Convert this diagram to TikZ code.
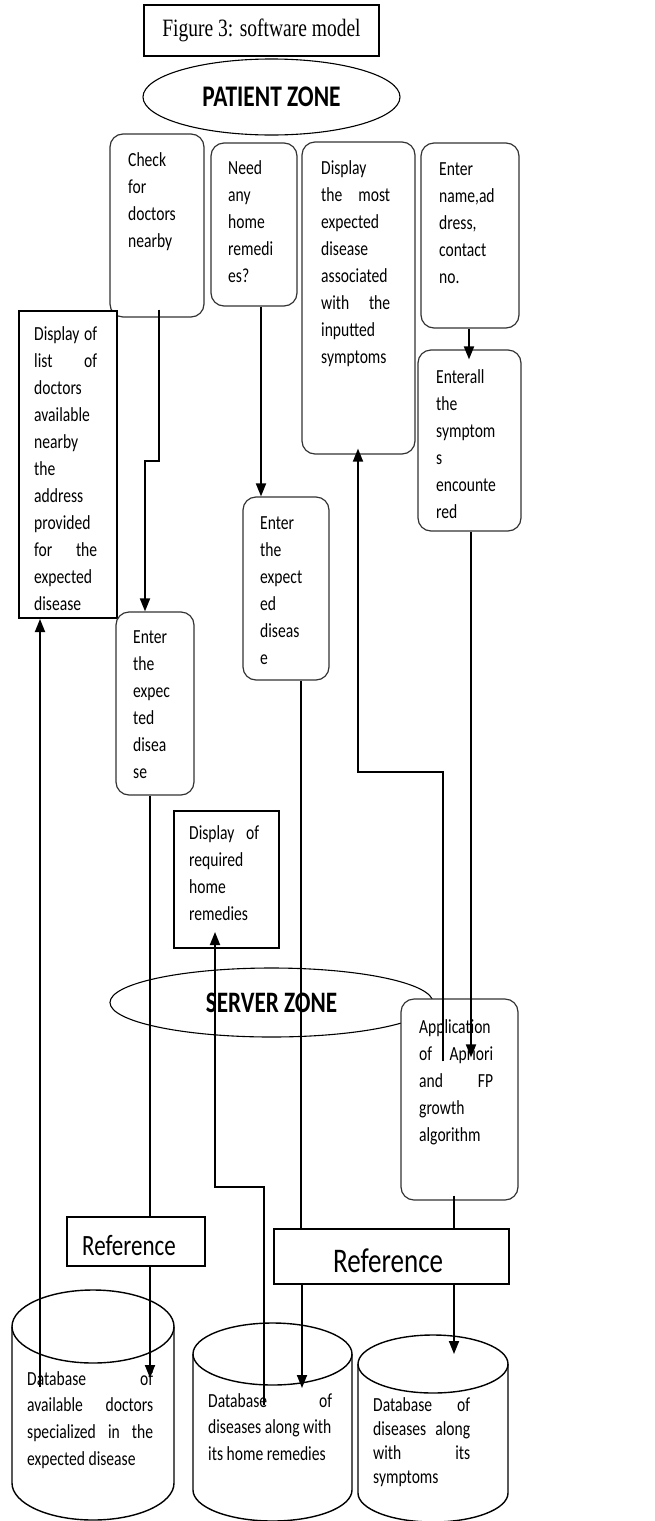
\documentclass[tikz,border=0pt]{standalone}
\usepackage{fontspec}
\setmainfont{Carlito}
\newfontfamily\timesf{Liberation Serif}
\usepackage{graphicx}
\usetikzlibrary{arrows.meta,fit,shapes.geometric,calc}
\newcommand{\vs}[1]{\scalebox{1}[1.28]{#1}}
\newcommand{\txt}[3][21.1]{\vs{\parbox[t]{#2pt}{\fontsize{15.6}{#1}\selectfont\raggedright\hyphenpenalty=10000 #3}}}
\newcommand{\jl}[1]{\makebox[\linewidth][s]{#1}}
\tikzset{
 rbox/.style={draw=black!80, line width=1.2pt, rounded corners=13pt, fill=white, inner sep=0pt},
 sbox/.style={draw=black, line width=2pt, fill=white, inner sep=0pt},
 conn/.style={line width=1.8pt},
 arr/.style={conn, -{Triangle[length=13pt,width=10pt]}},
 lbl/.style={inner sep=0pt, anchor=base west},
 zone/.style={draw, ellipse, line width=1.1pt, inner sep=0pt},
 db/.style={line width=1.4pt}
}
\begin{document}
\begin{tikzpicture}[x=1pt,y=1pt]
\useasboundingbox (0,0) rectangle (654,-1521);
% title
\node[sbox, minimum width=235pt, minimum height=51pt] (title) at (261.5,-30.5) {\vs{\timesf\fontsize{19.5}{22}\selectfont Figure 3: software model}};
% patient zone
\node[zone, minimum width=257pt, minimum height=76pt] (pz) at (271.5,-97) {\vs{\bfseries\fontsize{23.4}{28}\selectfont PATIENT ZONE}};
% top boxes
\node[rbox, fit={(110,-134) (204,-317)}] (check) {};
\node[lbl] (checkT) at (128,-166.5) {\txt{70}{Check\\for\\doctors\\nearby}};
\node[rbox, fit={(211,-143) (297,-306)}] (need) {};
\node[lbl] (needT) at (228,-174) {\txt{65}{Need\\any\\home\\remedi\\es?}};
\node[rbox, fit={(302,-142) (415,-454)}] (disp) {};
\node[lbl] (dispT) at (321,-174) {\txt{69}{Display\\\jl{the most}\\expected\\disease\\associated\\\jl{with the}\\inputted\\symptoms}};
\node[rbox, fit={(421,-143) (519,-328)}] (name) {};
\node[lbl] (nameT) at (439,-175) {\txt{75}{Enter\\name,ad\\dress,\\contact\\no.}};
\node[sbox, fit={(19,-311) (117,-618)}] (list) {};
\node[lbl] (listT) at (34,-340) {\txt{63}{\jl{Display of}\\\jl{list of}\\doctors\\available\\nearby\\the\\address\\provided\\\jl{for the}\\expected\\disease}};
\node[rbox, fit={(418,-350) (521,-531)}] (enterall) {};
\node[lbl] (enterallT) at (436,-383) {\txt{80}{Enterall\\the\\symptom\\s\\encounte\\red}};
\node[rbox, fit={(243,-497) (329,-680)}] (enterM) {};
\node[lbl] (enterMT) at (260,-529) {\txt{65}{Enter\\the\\expect\\ed\\diseas\\e}};
\node[rbox, fit={(116,-612) (194,-795)}] (enterL) {};
\node[lbl] (enterLT) at (133,-643) {\txt{60}{Enter\\the\\expec\\ted\\disea\\se}};
\node[sbox, fit={(174,-811) (279,-948)}] (home) {};
\node[lbl] (homeT) at (189,-839) {\txt{70}{\jl{Display of}\\required\\home\\remedies}};
% server zone
\node[zone, minimum width=323pt, minimum height=69pt] (sz) at (271.5,-1002.5) {\vs{\bfseries\fontsize{23.2}{28}\selectfont SERVER ZONE}};
\node[rbox, fit={(401,-999) (518,-1200)}] (app) {};
\node[lbl] (appT) at (419,-1033) {\txt{74}{Application\\\jl{of Apriori}\\\jl{and FP}\\growth\\algorithm}};
% references
\node[sbox, fit={(67,-1217) (205,-1266)}] (ref1) {};
\node[lbl] (ref1T) at (82,-1255) {\vs{\fontsize{23}{28}\selectfont Reference}};
\node[sbox, fit={(274,-1229) (509,-1284)}] (ref2) {};
\node[lbl] (ref2T) at (333,-1272) {\vs{\fontsize{27}{32}\selectfont Reference}};
% databases
\draw[db] (12,-1326.5) -- (12,-1483) arc (180:360:81 and 37) -- (174,-1326.5);
\draw[db] (93,-1326.5) ellipse (81 and 36.5);
\draw[db] (193,-1354) -- (193,-1490) arc (180:360:79.5 and 31) -- (352,-1354);
\draw[db] (272.5,-1354) ellipse (79.5 and 31);
\draw[db] (358,-1364) -- (358,-1493) arc (180:360:75 and 29) -- (508,-1364);
\draw[db] (433,-1364) ellipse (75 and 29);
\node[lbl] (db1T) at (27,-1385) {\txt[20.9]{126}{\jl{Database of}\\\jl{available doctors}\\\jl{specialized in the}\\\mbox{expected disease}}};
\node[lbl] (db2T) at (208,-1407) {\txt[20.9]{124}{\jl{Database of}\\\mbox{diseases along with}\\\mbox{its home remedies}}};
\node[lbl] (db3T) at (373,-1411) {\txt[18.75]{97}{\jl{Database of}\\\jl{diseases along}\\\jl{with its}\\symptoms}};
\coordinate (db1in) at (150,-1378);
\coordinate (db1out) at (40,-1387);
\coordinate (db2in) at (302,-1388);
\coordinate (db2out) at (264,-1405);
\coordinate (db3in) at (454,-1354);
% connectors
\draw[arr] ([xshift=2pt,yshift=8pt]check.south) |- (145,-461) -- (enterL.north -| 145,0);
\draw[arr] (need.south -| 261,0) -- (enterM.north -| 261,0);
\draw[arr] (name.south -| 469,0) -- ($(enterall.north -| 469,0)+(0,-10)$);
\draw[arr] (enterall.south -| 471,0) -- ($(app.north -| 471,0)+(0,-59)$);
\draw[arr] ($(app.north -| 443,0)+(0,-63)$) |- (358,-772) -- ($(disp.south -| 358,0)+(0,6)$);
\draw[conn] ($(app.south -| 454,0)+(0,5)$) -- (ref2.north -| 454,0);
\draw[arr] (ref2.south -| 454,0) -- (db3in);
\draw[conn] (enterM.south -| 301,0) -- (ref2.north -| 301,0);
\draw[arr] (ref2.south -| 302,0) -- (db2in);
\draw[conn] (enterL.south -| 150,0) -- (ref1.north -| 150,0);
\draw[arr] (ref1.south -| 150,0) -- (db1in);
\draw[arr] (db1out) -- (list.south -| 40,0);
\draw[arr] (db2out) |- (215,-1187) -- ($(home.south -| 215,0)+(0,17)$);
\end{tikzpicture}
\end{document}
